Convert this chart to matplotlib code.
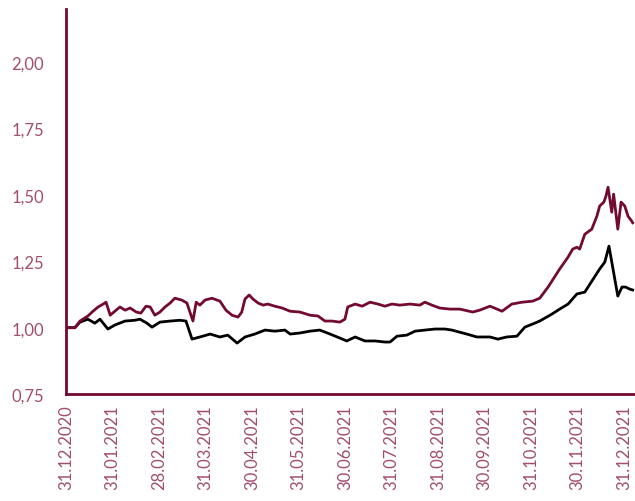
import matplotlib
matplotlib.use("Agg")
import matplotlib.pyplot as plt
from matplotlib.ticker import FixedLocator, FuncFormatter

# time axis in months since 31.12.2020 (labels evenly spaced, one per month end)
tick_labels = [
    "31.12.2020", "31.01.2021", "28.02.2021", "31.03.2021", "30.04.2021",
    "31.05.2021", "30.06.2021", "31.07.2021", "31.08.2021", "30.09.2021",
    "31.10.2021", "30.11.2021", "31.12.2021",
]

red_t = [
    0.00, 0.19, 0.30, 0.47, 0.58, 0.69, 0.80, 0.86, 0.95, 1.05, 1.16, 1.27,
    1.38, 1.51, 1.61, 1.72, 1.81, 1.91, 2.02, 2.13, 2.24, 2.34, 2.49, 2.60,
    2.73, 2.80, 2.88, 2.99, 3.14, 3.31, 3.44, 3.57, 3.70, 3.78, 3.85, 3.94,
    4.02, 4.13, 4.24, 4.34, 4.49, 4.65, 4.82, 5.03, 5.25, 5.42, 5.57, 5.72,
    5.89, 6.00, 6.06, 6.22, 6.37, 6.54, 6.71, 6.86, 7.01, 7.18, 7.40, 7.61,
    7.72, 7.87, 8.04, 8.26, 8.47, 8.75, 8.90, 9.12, 9.38, 9.59, 9.81, 10.04,
    10.19, 10.37, 10.62, 10.80, 10.90, 10.99, 11.05, 11.16, 11.31, 11.42,
    11.48, 11.57, 11.61, 11.66, 11.74, 11.78, 11.87, 11.94, 12.02, 12.09,
    12.17, 12.19,
]
red_v = [
    1.000, 1.000, 1.025, 1.044, 1.062, 1.078, 1.089, 1.096, 1.047, 1.062, 1.078, 1.066,
    1.074, 1.059, 1.055, 1.081, 1.078, 1.047, 1.059, 1.078, 1.093, 1.111, 1.104, 1.093,
    1.025, 1.096, 1.085, 1.104, 1.111, 1.100, 1.066, 1.047, 1.040, 1.059, 1.108, 1.123,
    1.108, 1.093, 1.085, 1.089, 1.081, 1.074, 1.062, 1.059, 1.047, 1.044, 1.025, 1.025,
    1.021, 1.032, 1.078, 1.089, 1.081, 1.096, 1.089, 1.081, 1.089, 1.085, 1.089, 1.085,
    1.096, 1.085, 1.074, 1.070, 1.070, 1.059, 1.066, 1.081, 1.062, 1.089, 1.096, 1.100,
    1.111, 1.153, 1.221, 1.266, 1.296, 1.303, 1.296, 1.352, 1.371, 1.420,
    1.458, 1.473, 1.492, 1.529, 1.435, 1.503, 1.371, 1.473, 1.458, 1.420,
    1.401, 1.395,
]

black_t = [
    0.00, 0.19, 0.30, 0.47, 0.62, 0.73, 0.90, 1.05, 1.27, 1.48, 1.59, 1.74,
    1.85, 2.02, 2.24, 2.45, 2.58, 2.71, 2.88, 3.10, 3.31, 3.48, 3.68, 3.85,
    4.06, 4.28, 4.49, 4.71, 4.82, 5.03, 5.25, 5.46, 5.68, 5.89, 6.04, 6.22,
    6.43, 6.65, 6.86, 6.97, 7.12, 7.33, 7.51, 7.72, 7.94, 8.15, 8.30, 8.47,
    8.62, 8.84, 9.12, 9.29, 9.48, 9.70, 9.87, 10.04, 10.19, 10.45, 10.62,
    10.80, 10.99, 11.16, 11.31, 11.48, 11.59, 11.68, 11.76, 11.87, 11.96,
    12.04, 12.13, 12.19,
]
black_v = [
    1.000, 1.000, 1.021, 1.032, 1.017, 1.032, 0.995, 1.010, 1.025, 1.028, 1.032, 1.017,
    1.002, 1.021, 1.025, 1.028, 1.025, 0.957, 0.965, 0.976, 0.965, 0.972, 0.942, 0.965,
    0.976, 0.991, 0.987, 0.991, 0.976, 0.980, 0.987, 0.991, 0.976, 0.961, 0.950, 0.965,
    0.950, 0.950, 0.946, 0.946, 0.968, 0.972, 0.987, 0.991, 0.995, 0.995, 0.991, 0.983,
    0.976, 0.965, 0.965, 0.957, 0.965, 0.968, 1.002, 1.014, 1.025, 1.051, 1.070,
    1.089, 1.127, 1.134, 1.175, 1.221, 1.247, 1.307, 1.228, 1.119, 1.153,
    1.153, 1.145, 1.142,
]

DARK_RED = "#730a32"
LABEL_RED = "#a24e6e"

plt.rcParams["font.family"] = ["Lato", "DejaVu Sans"]

fig = plt.figure(figsize=(6.35, 5.02), dpi=100)
ax = fig.add_axes([0.104, 0.213, 0.896, 0.767])

ax.plot(black_t, black_v, color="black", linewidth=2.0, solid_joinstyle="round")
ax.plot(red_t, red_v, color=DARK_RED, linewidth=2.0, solid_joinstyle="round")

ax.set_xlim(0, 12.24)
ax.set_ylim(0.75, 2.20)

ax.set_yticks([0.75, 1.00, 1.25, 1.50, 1.75, 2.00])
ax.yaxis.set_major_formatter(FuncFormatter(lambda v, _: f"{v:.2f}".replace(".", ",")))
ax.tick_params(axis="y", length=0, pad=16, labelsize=12, labelcolor=LABEL_RED)

ax.set_xticks(range(len(tick_labels)))
ax.set_xticklabels(tick_labels, rotation=90)
ax.xaxis.set_minor_locator(FixedLocator([0]))
ax.tick_params(axis="x", which="major", length=0, pad=7, labelsize=12, labelcolor=LABEL_RED)
ax.tick_params(axis="x", which="minor", length=8, width=2, color=DARK_RED, direction="out")

for side in ("top", "right"):
    ax.spines[side].set_visible(False)
for side in ("left", "bottom"):
    ax.spines[side].set_color(DARK_RED)
    ax.spines[side].set_linewidth(2)

fig.savefig("out.png", dpi=100)
